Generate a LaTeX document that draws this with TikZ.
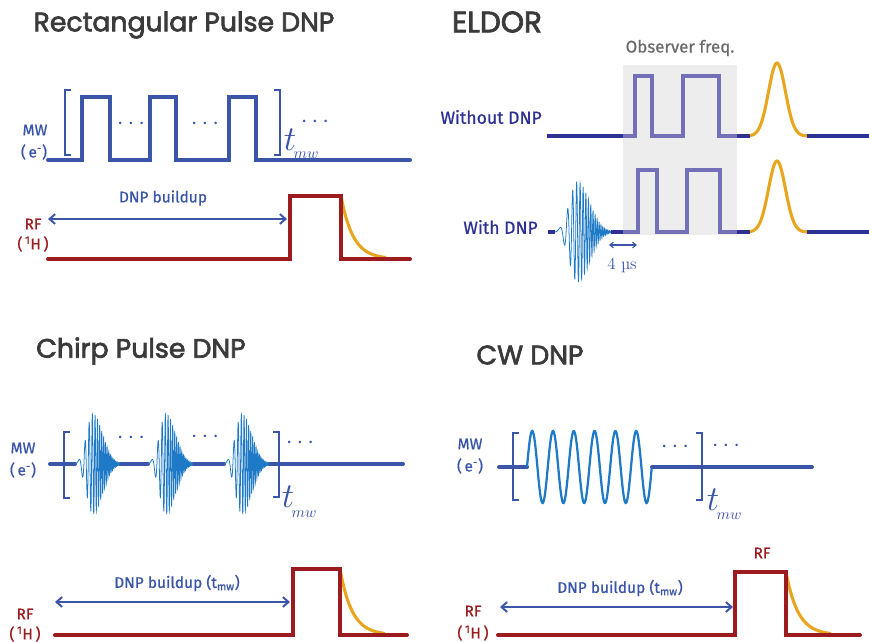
\documentclass[tikz,border=0pt]{standalone}
\usepackage{fontspec}
\newfontfamily\titlefont{Poppins}[FakeBold=2.5]
\newfontfamily\lblfont{Fira Sans}[FakeBold=0.8]
\usepackage{amsmath}
\usetikzlibrary{arrows.meta,positioning}
\definecolor{mwblue}{HTML}{3B55A9}
\definecolor{chirpblue}{HTML}{1E7AC6}
\definecolor{rfred}{HTML}{9B1B1E}
\definecolor{fidyellow}{HTML}{E8A61E}
\definecolor{eldorblue}{HTML}{2E3192}
\definecolor{obspurple}{HTML}{7370B8}
\definecolor{boxgray}{HTML}{EDEDED}
\definecolor{titlegray}{HTML}{3A3A3A}
\definecolor{obsgray}{HTML}{6B6B6B}
\tikzset{
  % rubriker och etiketter
  ttl/.style={font=\titlefont\fontsize{19}{23}\selectfont,text=titlegray,inner sep=0pt},
  chan/.style={font=\lblfont\fontsize{11}{13}\selectfont,inner sep=0pt},
  mwlbl/.style={chan,text=mwblue},
  rflbl/.style={chan,text=rfred},
  bulbl/.style={font=\lblfont\fontsize{11}{13}\selectfont,text=mwblue,inner sep=0pt},
  eldlbl/.style={font=\lblfont\fontsize{12.5}{15}\selectfont,text=eldorblue,inner sep=0pt,anchor=east},
  dotsl/.style={text=mwblue,inner sep=0pt,font=\fontsize{17}{19}\selectfont},
  tl/.style={text=mwblue,inner sep=0pt,font=\fontsize{24}{28}\selectfont},
  mwsub/.style={text=mwblue,inner sep=0pt,font=\fontsize{11}{13}\selectfont},
  % linjer
  mwline/.style={draw=mwblue,line width=2.8pt,line cap=round},
  rfline/.style={draw=rfred,line width=2.8pt,line cap=round},
  fid/.style={draw=fidyellow,line width=2.2pt},
  brk/.style={draw=mwblue,line width=1.8pt},
  chirpline/.style={draw=chirpblue,line width=0.55pt},
  cwline/.style={draw=chirpblue,line width=1.6pt},
  buildup/.style={{Straight Barb[length=4pt,width=7pt]}-{Straight Barb[length=4pt,width=7pt]},draw=mwblue,line width=1.4pt},
  fourus/.style={{Straight Barb[length=2.5pt,width=4pt]}-{Straight Barb[length=2.5pt,width=4pt]},draw=mwblue,line width=0.8pt},
  eldline/.style={draw=eldorblue,line width=2.2pt},
  obsline/.style={draw=obspurple,line width=2.2pt},
  chirppulse/.pic={
    \draw[chirpline] plot[domain=0:1,samples=600]
      ({45*\x},{-50*(\x<0.4 ? exp(-((\x-0.4)/0.2)*((\x-0.4)/0.2)) : exp(-((\x-0.4)/0.3)*((\x-0.4)/0.3)))*sin(360*(1.5*\x+18*\x*\x))});
  },
}

\begin{document}
\begin{tikzpicture}[x=0.025cm,y=-0.025cm]
  \useasboundingbox (0,0) rectangle (869,641);

  % Rectangular Pulse DNP
  \node[ttl] (rtitle) at (184,25) {Rectangular Pulse DNP};
  \node[mwlbl] (rmw) at (35,130) {MW};
  \node[mwlbl] (re) at (34,152) {(\,e\textsuperscript{-})};
  \draw[mwline] (48,160) \foreach \a/\b in {82/110,150/176,229/256}{ -- (\a,160) -- (\a,97) -- (\b,97) -- (\b,160)} -- (410,160);
  \draw[brk] (71,90) -- (65,90) -- (65,155) -- (71,155);
  \draw[brk] (274,90) -- (280,90) -- (280,155) -- (274,155);
  \node[dotsl] (rd1) at (133,124) {$\cdots$};
  \node[dotsl] (rd2) at (207,124) {$\cdots$};
  \node[dotsl] (rd3) at (317,122) {$\cdots$};
  \node[tl] (rt) at (290,140) {$t$};
  \node[mwsub] (rsub) at (306,155) {$mw$};
  \node[rflbl] (rrf) at (33,224) {RF};
  \node[rflbl] (rh) at (33,244) {(\,\textsuperscript{1}H\,)};
  \coordinate (rbs) at (48,219);
  \coordinate (rbe) at (287,219);
  \draw[buildup] (rbs) -- (rbe);
  \node[bulbl] (rbu) at (163,198) {DNP buildup};
  \draw[fid] plot[domain=0:45,samples=60] ({341+\x},{259-63*exp(-\x/12)});
  \draw[rfline] (48,259) -- (290,259) -- (290,196) -- (341,196) -- (341,259) -- (410,259);

  % ELDOR
  \node[ttl,font=\titlefont\fontsize{21}{24}\selectfont] (etitle) at (497,22) {ELDOR};
  \fill[boxgray] (623,65) rectangle (737,235);
  \node[font=\lblfont\fontsize{12}{14}\selectfont,text=obsgray] (eobs) at (680,48) {Observer freq.};
  \node[eldlbl] (ewo) at (542,117) {Without DNP};
  \node[eldlbl] (ew) at (538,227) {With DNP};
  \draw[eldline] (547,136) -- (623,136);
  \draw[obsline] (623,136) -- (635,136) -- (635,76) -- (652,76) -- (652,136) -- (683,136) -- (683,76) -- (719,76) -- (719,136) -- (737,136);
  \draw[eldline] (737,136) -- (750,136);
  \draw[fid] plot[domain=750:807,samples=60] (\x,{136-73*exp(-((\x-777)/12)*((\x-777)/12))});
  \draw[eldline] (807,136) -- (869,136);
  \draw[eldline] (548,232) -- (555,232);
  \pic[xscale=1.25] at (555,232) {chirppulse};
  \draw[eldline] (611,232) -- (623,232);
  \draw[obsline] (623,232) -- (638,232) -- (638,170) -- (657,170) -- (657,232) -- (687,232) -- (687,170) -- (720,170) -- (720,232) -- (737,232);
  \draw[eldline] (737,232) -- (750,232);
  \draw[fid] plot[domain=750:807,samples=60] (\x,{232-71*exp(-((\x-777)/12)*((\x-777)/12))});
  \draw[eldline] (807,232) -- (869,232);
  \coordinate (e4s) at (609,245);
  \coordinate (e4e) at (637,245);
  \draw[fourus] (e4s) -- (e4e);
  \node[text=mwblue,font=\fontsize{12}{14}\selectfont] (e4) at (622,265) {4 µs};

  % Chirp Pulse DNP
  \node[ttl] (ctitle) at (141,351) {Chirp Pulse DNP};
  \node[mwlbl] (cmw) at (23,448) {MW};
  \node[mwlbl] (ce) at (23,470) {(\,e\textsuperscript{-})};
  \draw[mwline] (50,464) -- (75,464);
  \draw[mwline] (120,464) -- (148,464);
  \draw[mwline] (193,464) -- (224,464);
  \draw[mwline] (269,464) -- (403,464);
  \foreach \s in {75,148,224}
    \pic at (\s,464) {chirppulse};
  \draw[brk] (70,432) -- (64,432) -- (64,498) -- (70,498);
  \draw[brk] (273,432) -- (279,432) -- (279,497) -- (273,497);
  \node[dotsl] (cd1) at (133,438) {$\cdots$};
  \node[dotsl] (cd2) at (207,437) {$\cdots$};
  \node[dotsl] (cd3) at (302,443) {$\cdots$};
  \node[tl] (ct) at (288,497) {$t$};
  \node[mwsub] (csub) at (304,514) {$mw$};
  \node[rflbl] (crf) at (25,614) {RF};
  \node[rflbl] (ch) at (25,634) {(\,\textsuperscript{1}H\,)};
  \coordinate (cbs) at (55,602);
  \coordinate (cbe) at (290,602);
  \draw[buildup] (cbs) -- (cbe);
  \node[bulbl] (cbu) at (177,583) {DNP buildup (t\textsubscript{mw})};
  \draw[fid] plot[domain=0:45,samples=60] ({340+\x},{635-66*exp(-\x/12)});
  \draw[rfline] (55,635) -- (293,635) -- (293,569) -- (340,569) -- (340,635) -- (407,635);

  % CW DNP
  \node[ttl] (wtitle) at (530,355) {CW DNP};
  \node[mwlbl] (wmw) at (470,444) {MW};
  \node[mwlbl] (we) at (470,466) {(\,e\textsuperscript{-})};
  \draw[mwline] (499,467) -- (527,467);
  \draw[cwline] plot[domain=0:6,samples=240] ({527+20.8*\x},{467-36*sin(360*\x)});
  \draw[mwline] (652,467) -- (812,467);
  \draw[brk] (519,433) -- (513,433) -- (513,500) -- (519,500);
  \draw[brk] (696,433) -- (702,433) -- (702,500) -- (696,500);
  \node[dotsl] (wd1) at (677,447) {$\cdots$};
  \node[dotsl] (wd2) at (728,446) {$\cdots$};
  \node[tl] (wt) at (713,500) {$t$};
  \node[mwsub] (wsub) at (729,516) {$mw$};
  \node[rflbl] (wrfp) at (762,553) {RF};
  \node[rflbl] (wrf) at (473,611) {RF};
  \node[rflbl] (wh) at (473,633) {(\,\textsuperscript{1}H\,)};
  \coordinate (wbs) at (500,607);
  \coordinate (wbe) at (733,607);
  \draw[buildup] (wbs) -- (wbe);
  \node[bulbl] (wbu) at (620,588) {DNP buildup (t\textsubscript{mw})};
  \draw[fid] plot[domain=0:45,samples=60] ({786+\x},{635-63*exp(-\x/12)});
  \draw[rfline] (498,635) -- (735,635) -- (735,572) -- (786,572) -- (786,635) -- (860,635);
\end{tikzpicture}
\end{document}
